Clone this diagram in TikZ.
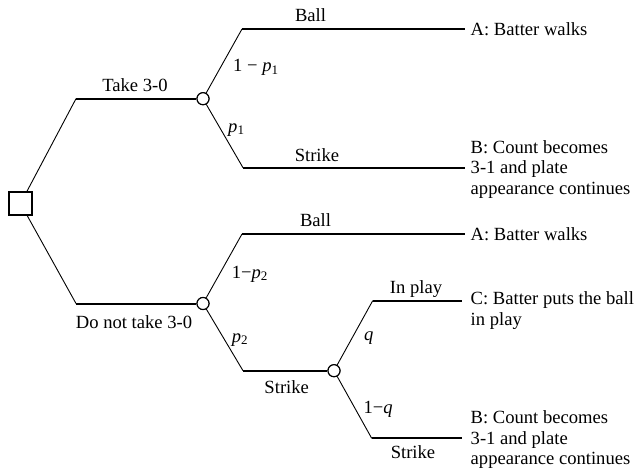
\documentclass[tikz,border=0pt]{standalone}
\usepackage{fontspec}
\setmainfont{Liberation Serif}
\begin{document}
\begin{tikzpicture}[x=1pt,y=-1pt,
  every node/.style={font=\fontsize{18.6}{20.5}\selectfont, inner sep=0pt},
  sq/.style={draw, line width=1.1pt, minimum size=23pt, inner sep=0pt},
  chance/.style={draw, circle, line width=1.1pt, minimum size=12pt, inner sep=0pt, fill=white},
  diag/.style={line width=0.9pt},
  horiz/.style={line width=2pt},
  lbl/.style={anchor=base},
  plbl/.style={anchor=base west},
  outc/.style={anchor=west, align=left}
]
\useasboundingbox (0,0) rectangle (634,472);

% decision and chance nodes
\node[sq] (root) at (20.5,203.5) {};
\node[chance] (c1) at (203,98.7) {};
\node[chance] (c2) at (203,303.5) {};
\node[chance] (c3) at (334,370.7) {};

% bend points and free ends
\coordinate (k1) at (76,98.7);
\coordinate (k2) at (76,303.5);
\coordinate (b1) at (242,29);   \coordinate (e1) at (465,29);
\coordinate (s1) at (243,167.7); \coordinate (f1) at (465,167.7);
\coordinate (b2) at (242,234);  \coordinate (e2) at (465,234);
\coordinate (s2) at (243,370.7);
\coordinate (p3) at (372.7,300.7); \coordinate (e3) at (462,300.7);
\coordinate (s3) at (371.7,438.3); \coordinate (f3) at (462,438.3);

% branches
\draw[diag] (root) -- (k1);
\draw[horiz] (k1) -- (c1);
\draw[diag] (c1) -- (b1);
\draw[horiz] (b1) -- (e1);
\draw[diag] (c1) -- (s1);
\draw[horiz] (s1) -- (f1);

\draw[diag] (root) -- (k2);
\draw[horiz] (k2) -- (c2);
\draw[diag] (c2) -- (b2);
\draw[horiz] (b2) -- (e2);
\draw[diag] (c2) -- (s2);
\draw[horiz] (s2) -- (c3);
\draw[diag] (c3) -- (p3);
\draw[horiz] (p3) -- (e3);
\draw[diag] (c3) -- (s3);
\draw[horiz] (s3) -- (f3);

% redraw chance nodes on top
\node[chance] at (c1) {};
\node[chance] at (c2) {};
\node[chance] at (c3) {};

% branch labels
\node[lbl] (ball1) at (310.5,21) {Ball};
\node[lbl] (strike1) at (317,161.7) {Strike};
\node[lbl] (take) at (135,91.7) {Take 3-0};
\node[lbl] (ball2) at (315.5,226.7) {Ball};
\node[lbl] (nottake) at (134,328.3) {Do not take 3-0};
\node[lbl] (strike2) at (286.7,393.3) {Strike};
\node[lbl] (inplay) at (416,293.3) {In play};
\node[lbl] (strike3) at (413,458.3) {Strike};

% probabilities
\node[plbl] (q1) at (233,71.7) {1 − \textit{p}\textsubscript{1}};
\node[plbl] (p1) at (228,132) {\textit{p}\textsubscript{1}};
\node[plbl] (q2) at (231.7,278.3) {1−\textit{p}\textsubscript{2}};
\node[plbl] (p2) at (231.7,342) {\textit{p}\textsubscript{2}};
\node[plbl] (qq) at (364,340) {\textit{q}};
\node[plbl] (nq) at (363.3,413.3) {1−\textit{q}};

% outcomes
\node[anchor=base west] (A1) at (470.5,35) {A: Batter walks};
\node[outc] (B1) at (470.5,169.2) {B: Count becomes\\3-1 and plate\\appearance continues};
\node[anchor=base west] (A2) at (470.5,240) {A: Batter walks};
\node[outc] (C) at (470.5,310.7) {C: Batter puts the ball\\in play};
\node[outc] (B2) at (470.5,439.8) {B: Count becomes\\3-1 and plate\\appearance continues};
\end{tikzpicture}
\end{document}
